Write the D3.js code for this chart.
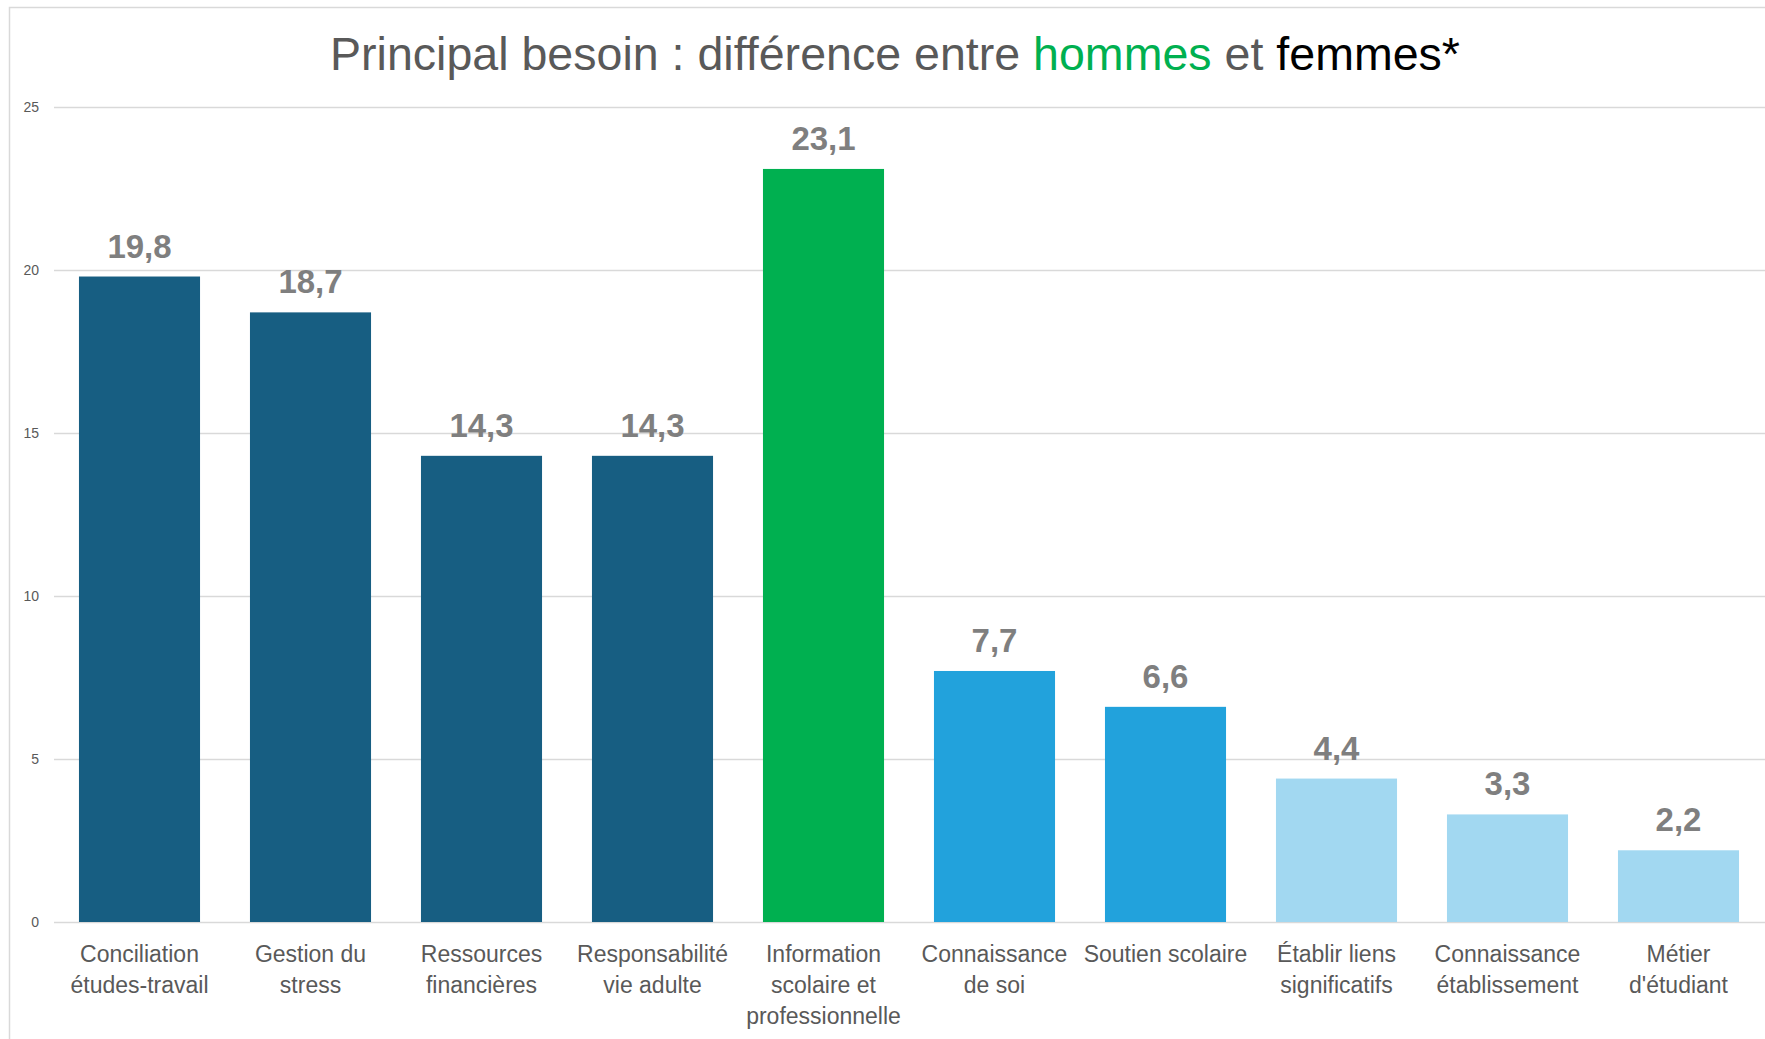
<!DOCTYPE html>
<html>
<head>
<meta charset="utf-8">
<script src="https://cdn.jsdelivr.net/npm/d3@7"></script>
<style>
	body {margin:0; background:#fff;}
	svg {display:block;}
</style>
</head>
<body>
<div class="c_chart"></div>
<script>
/*DATA
------------------------------------------------------
*/
const categories = [
	["Conciliation", "études-travail"],
	["Gestion du", "stress"],
	["Ressources", "financières"],
	["Responsabilité", "vie adulte"],
	["Information", "scolaire et", "professionnelle"],
	["Connaissance", "de soi"],
	["Soutien scolaire"],
	["Établir liens", "significatifs"],
	["Connaissance", "établissement"],
	["Métier", "d'étudiant"]
];
const values = [19.8, 18.7, 14.3, 14.3, 23.1, 7.7, 6.6, 4.4, 3.3, 2.2];
const groups = ["fort", "fort", "fort", "fort", "hommes", "moyen", "moyen", "faible", "faible", "faible"];
const yTicks = [0, 5, 10, 15, 20, 25];

const colors = {fort:"#175E82", hommes:"#00B050", moyen:"#22A2DC", faible:"#A2D8F1"};

/*SVG, FORMAT
------------------------------------------------------
*/
const width = 1765;
const height = 1039;
const margin = {top:107, right:1, bottom:117, left:54};
const font = "'Liberation Sans', Arial, sans-serif";

let svg = d3.select(".c_chart")
	.append("svg")
	.attr("width", width)
	.attr("height", height);

// cadre du graphique
svg.append("path")
	.attr("d", `M9.5,${height} V7.5 H${width}`)
	.attr("fill", "none")
	.attr("stroke", "#d9d9d9")
	.attr("stroke-width", 1.5);

/*SCALES
------------------------------------------------------
*/
let x = d3.scaleBand()
	.domain(d3.range(values.length))
	.range([margin.left, width - margin.right])
	.paddingInner(0.292)
	.paddingOuter(0.146);

let y = d3.scaleLinear()
	.domain([0, 25])
	.range([height - margin.bottom, margin.top]);

/*AXES
------------------------------------------------------
*/
let yAxis = svg.append("g")
	.attr("transform", `translate(${margin.left},0)`)
	.call(d3.axisLeft(y)
		.tickValues(yTicks)
		.tickSize(-(width - margin.left))
		.tickPadding(15));

yAxis.select(".domain").remove();
yAxis.selectAll(".tick line")
	.attr("stroke", "#d9d9d9")
	.attr("stroke-width", 1.5);
yAxis.selectAll(".tick text")
	.attr("fill", "#595959")
	.style("font-family", font)
	.style("font-size", "14px");

/*BARS
------------------------------------------------------
*/
svg.append("g")
	.selectAll("rect")
	.data(values)
	.enter()
	.append("rect")
	.attr("x", (d, i) => x(i))
	.attr("y", d => y(d))
	.attr("width", x.bandwidth())
	.attr("height", d => y(0) - y(d))
	.attr("fill", (d, i) => colors[groups[i]]);

// étiquettes de valeurs
const fmt = d3.format(".1f");
svg.append("g")
	.selectAll("text")
	.data(values)
	.enter()
	.append("text")
	.attr("x", (d, i) => x(i) + x.bandwidth() / 2)
	.attr("y", d => y(d) - 19)
	.attr("text-anchor", "middle")
	.attr("fill", "#7F7F7F")
	.style("font-family", font)
	.style("font-weight", "bold")
	.style("font-size", "33px")
	.text(d => fmt(d).replace(".", ","));

// étiquettes de catégories
let catLabels = svg.append("g")
	.selectAll("text")
	.data(categories)
	.enter()
	.append("text")
	.attr("x", (d, i) => x(i) + x.bandwidth() / 2)
	.attr("y", y(0) + 40)
	.attr("text-anchor", "middle")
	.attr("fill", "#595959")
	.style("font-family", font)
	.style("font-size", "23px");

catLabels.selectAll("tspan")
	.data(d => d)
	.enter()
	.append("tspan")
	.attr("x", function() { return this.parentNode.getAttribute("x"); })
	.attr("dy", (d, j) => j === 0 ? 0 : 31)
	.text(d => d);

/*TITLE
------------------------------------------------------
*/
const titleParts = [
	{text:"Principal besoin : différence entre ", color:"#595959"},
	{text:"hommes", color:"#00B050"},
	{text:" et ", color:"#595959"},
	{text:"femmes*", color:"#000000"}
];

let title = svg.append("text")
	.attr("x", 895)
	.attr("y", 70)
	.attr("text-anchor", "middle")
	.attr("textLength", 1130)
	.attr("lengthAdjust", "spacingAndGlyphs")
	.style("font-family", font)
	.style("font-size", "47px")
	.style("white-space", "pre");

title.selectAll("tspan")
	.data(titleParts)
	.enter()
	.append("tspan")
	.attr("fill", d => d.color)
	.text(d => d.text);
</script>
</body>
</html>
